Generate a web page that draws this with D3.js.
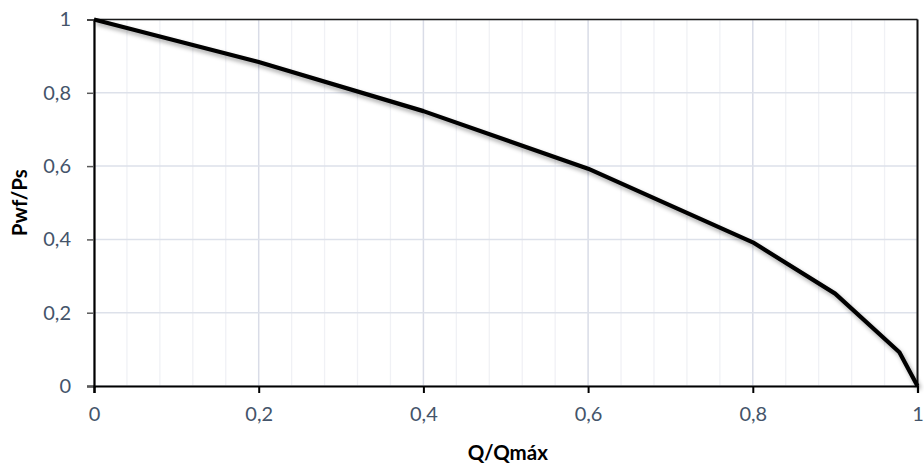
<!DOCTYPE html>
<html><head><meta charset="utf-8">
<script src="https://cdn.jsdelivr.net/npm/d3@7/dist/d3.min.js"></script>
<style>body{margin:0;background:#fff}svg{display:block}</style>
</head><body>
<svg id="c" width="924" height="466"></svg>
<script>
const qRatio = [0, 0.2, 0.4, 0.6, 0.8, 0.9, 0.978, 1];
const pRatio = [1, 0.884, 0.75, 0.593, 0.392, 0.252, 0.092, 0];
const xTicks = [0, 0.2, 0.4, 0.6, 0.8, 1];
const yTicks = [0, 0.2, 0.4, 0.6, 0.8, 1];
const xMinor = d3.range(0, 25).map(i => i * 0.04);
const xTitle = "Q/Qmáx";
const yTitle = "Pwf/Ps";

const svg = d3.select("#c");
const L = 94, R = 917.5, T = 19.5, B = 386;
const x = d3.scaleLinear().domain([0, 1]).range([L, R]);
const y = d3.scaleLinear().domain([0, 1]).range([B, T]);
const fmt = d => d === 0 ? "0" : d === 1 ? "1" : String(d).replace(".", ",");

const defs = svg.append("defs");
const f = defs.append("filter").attr("id", "sh").attr("x", "-10%").attr("y", "-10%").attr("width", "120%").attr("height", "130%");
f.append("feDropShadow").attr("dx", 2).attr("dy", 3).attr("stdDeviation", 2.2).attr("flood-color", "#000").attr("flood-opacity", 0.35);

// minor vertical grid
svg.append("g").selectAll("line").data(xMinor.filter(d => Math.abs(d*5 - Math.round(d*5)) > 1e-6))
  .join("line").attr("x1", d => x(d)).attr("x2", d => x(d)).attr("y1", T).attr("y2", B)
  .attr("stroke", "#f0f1f5").attr("stroke-width", 1.3);
// major grids
svg.append("g").selectAll("line").data(xTicks).join("line")
  .attr("x1", d => x(d)).attr("x2", d => x(d)).attr("y1", T).attr("y2", B)
  .attr("stroke", "#d9dce7").attr("stroke-width", 1.5);
svg.append("g").selectAll("line").data(yTicks).join("line")
  .attr("x1", L).attr("x2", R).attr("y1", d => y(d)).attr("y2", d => y(d))
  .attr("stroke", "#dde1ea").attr("stroke-width", 1.5);

// frame
svg.append("line").attr("x1", L).attr("x2", R).attr("y1", T).attr("y2", T).attr("stroke", "#1a1a1a").attr("stroke-width", 1.5);
svg.append("line").attr("x1", R).attr("x2", R).attr("y1", T).attr("y2", B).attr("stroke", "#111").attr("stroke-width", 2);

// axes
const yAxis = svg.append("g").attr("transform", `translate(${L},0)`)
  .call(d3.axisLeft(y).tickValues(yTicks).tickFormat(fmt).tickSize(7).tickPadding(16));
yAxis.select(".domain").attr("stroke", "#000").attr("stroke-width", 2.2);
yAxis.selectAll(".tick line").attr("stroke", "#595959").attr("stroke-width", 1.5);
const xAxis = svg.append("g").attr("transform", `translate(0,${B})`)
  .call(d3.axisBottom(x).tickValues(xTicks).tickFormat(fmt).tickSize(7).tickPadding(14));
xAxis.select(".domain").attr("stroke", "#000").attr("stroke-width", 2.2);
xAxis.selectAll(".tick line").attr("stroke", "#000").attr("stroke-width", 2);
svg.selectAll(".tick text").attr("font-family", "Lato, 'Open Sans', sans-serif").attr("font-size", 20).attr("fill", "#44546a");

// line
svg.append("path").datum(qRatio.map((q, i) => [q, pRatio[i]]))
  .attr("d", d3.line().x(d => x(d[0])).y(d => y(d[1])))
  .attr("fill", "none").attr("stroke", "#000").attr("stroke-width", 4.2)
  .attr("stroke-linejoin", "round").attr("filter", "url(#sh)");

// titles
svg.append("text").attr("x", (L + R) / 2 + 2).attr("y", 460).attr("text-anchor", "middle")
  .attr("font-family", "Lato, 'Open Sans', sans-serif").attr("font-weight", "bold").attr("font-size", 20.5).text(xTitle);
svg.append("text").attr("transform", `translate(27,${(T + B) / 2}) rotate(-90)`).attr("text-anchor", "middle")
  .attr("font-family", "Lato, 'Open Sans', sans-serif").attr("font-weight", "bold").attr("font-size", 20.5).text(yTitle);
</script>
</body></html>
